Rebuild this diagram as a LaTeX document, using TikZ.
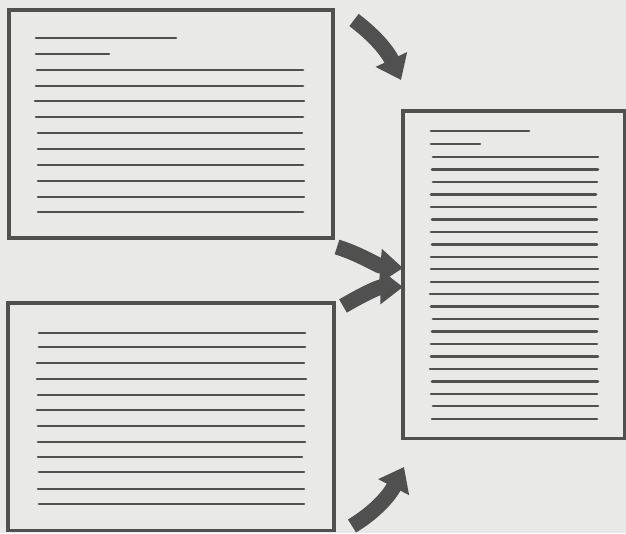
\documentclass[tikz,border=0pt]{standalone}
\usetikzlibrary{arrows.meta}
\definecolor{paper}{RGB}{233,233,231}
\definecolor{ink}{RGB}{80,80,80}
\tikzset{page/.style = {draw = ink, line width = 2.3pt, rectangle, inner sep = 0pt},
txt/.style = {ink, line width = 2pt, line cap = round},
fat/.style = {ink, line width = 11.5pt, -{Triangle[length = 17pt, width = 25pt]}}}
\begin{document}
\begin{tikzpicture}[x = 0.75pt, y = -0.75pt]
\fill[paper] (0,0) rectangle (626,533);\useasboundingbox (0,0) rectangle (626,533);
\node[page, minimum width = 243pt, minimum height = 171pt] (toppage) at (171,124) {};
\node[page, minimum width = 244.5pt, minimum height = 170.3pt] (lowpage) at (171,416.5) {};
\node[page, minimum width = 165.8pt, minimum height = 245.3pt] (joined) at (513.5,274.5) {};
%
\draw[txt] (36,38) -- (176,38);\draw[txt] (36,54) -- (109,54);
\draw[txt] (37,70) -- (303,70);\draw[txt] (36,86) -- (303,86);\draw[txt] (35,101) -- (304,101);
\draw[txt] (36,117) -- (303,117);\draw[txt] (38,133) -- (302,133);\draw[txt] (38,149) -- (304,149);
\draw[txt] (38,165) -- (303,165);\draw[txt] (38,181) -- (304,181);\draw[txt] (38,197) -- (304,197);
\draw[txt] (38,212) -- (303,212);
%
\draw[txt] (39,333) -- (305,333);\draw[txt] (39,347) -- (305,347);\draw[txt] (37,363) -- (304,363);
\draw[txt] (37,379) -- (306,379);\draw[txt] (38,395) -- (304,395);\draw[txt] (37,410) -- (304,410);
\draw[txt] (38,426) -- (304,426);\draw[txt] (38,442) -- (305,442);\draw[txt] (38,457) -- (302,457);
\draw[txt] (39,472) -- (304,472);\draw[txt] (38,489) -- (304,489);\draw[txt] (39,504) -- (304,504);
%
\draw[txt] (431,131) -- (529,131);\draw[txt] (431,144) -- (480,144);
\draw[txt] (433,157) -- (598,157);\draw[txt] (432,169.5) -- (598,169.5);\draw[txt] (433,182) -- (597,182);
\draw[txt] (431,194.5) -- (596,194.5);\draw[txt] (431,207) -- (596,207);\draw[txt] (432,219.5) -- (597,219.5);
\draw[txt] (431,232) -- (597,232);\draw[txt] (432,244.5) -- (597,244.5);\draw[txt] (431,257) -- (597,257);
\draw[txt] (431,269) -- (598,269);\draw[txt] (431,282) -- (598,282);\draw[txt] (430,294) -- (598,294);
\draw[txt] (431,306.5) -- (598,306.5);\draw[txt] (433,319) -- (598,319);\draw[txt] (432,331.5) -- (597,331.5);
\draw[txt] (431,344) -- (597,344);\draw[txt] (431,356.5) -- (598,356.5);\draw[txt] (430,369) -- (597,369);
\draw[txt] (432,381.5) -- (598,381.5);\draw[txt] (431,394) -- (597,394);\draw[txt] (433,406) -- (598,406);
\draw[txt] (432,419) -- (597,419);
%
\coordinate (t1) at (354,20);\coordinate (h1) at (401,80);
\coordinate (t2) at (337,247);\coordinate (h2) at (403,268);
\coordinate (t3) at (343,306);\coordinate (h3) at (403,287);
\coordinate (t4) at (352,526);\coordinate (h4) at (404,467);
\draw[fat] (t1) .. controls (370,32) and (386,48) .. (h1);
\draw[fat] (t2) .. controls (360,254) and (378,266) .. (h2);
\draw[fat] (t3) .. controls (360,296) and (378,287) .. (h3);
\draw[fat] (t4) .. controls (372,514) and (388,498) .. (h4);
\end{tikzpicture}
\end{document}
